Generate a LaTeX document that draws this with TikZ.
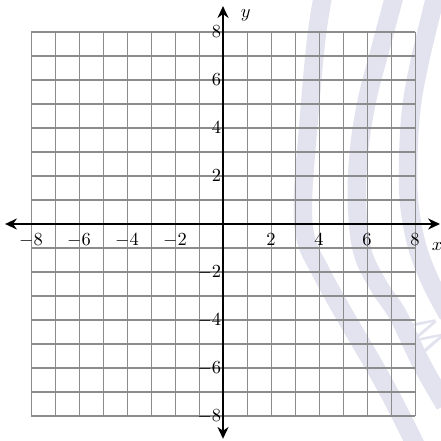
\documentclass[tikz,border=0pt]{standalone}
\usepackage{tikz}
\usetikzlibrary{positioning, arrows.meta, calc}

\definecolor{gridgray}{RGB}{140,140,140}
\definecolor{wmarkcol}{RGB}{226,227,239}

\begin{document}
\begin{tikzpicture}[
    x=0.5cm, y=0.5cm,                       % 1目盛り = 0.5cm
    >={Stealth[length=7pt, width=6.5pt]},   % 軸の矢じり
    font=\fontsize{11}{13}\selectfont,
    gridline/.style={draw=gridgray, line width=0.6pt},
    axisline/.style={black, line width=1.2pt, <->},
    wmark/.style={draw=wmarkcol, line width=11pt},
    ticklabel/.style={inner sep=0pt}
]

    % 画像全体の大きさ（余白を含む）
    \useasboundingbox (-9.292, -9.0) rectangle (9.083, 9.333);

    % --- 1. 背景の透かし模様（3本の弧） ---
    \draw [wmark, smooth, tension=0.6] plot coordinates {
        (4.21, 9.75) (3.88, 7.67) (3.54, 3.92) (3.33, 1.0) (3.46, -0.67)
        (4.04, -1.92) (4.71, -3.17) (5.5, -4.54) (6.33, -5.96) (7.08, -7.33)
        (8.13, -9.42)
    };
    \draw [wmark, smooth, tension=0.6] plot coordinates {
        (7.21, 9.75) (6.54, 7.25) (6.0, 5.17) (5.67, 3.08) (5.58, 1.0)
        (5.79, -1.08) (6.46, -2.54) (7.29, -3.79) (8.25, -5.79) (9.25, -7.54)
    };
    \draw [wmark, smooth, tension=0.6] plot coordinates {
        (8.92, 9.75) (8.21, 6.83) (7.83, 4.67) (7.71, 2.25) (7.79, 0.58)
        (8.13, -1.08) (8.71, -2.54) (9.38, -3.79)
    };
    \node [text=wmarkcol, rotate=116, font=\fontsize{24}{26}\sffamily] (wmtext)
        at (8.5, -4.6) {W};

    % --- 2. 方眼の描画 ---
    \foreach \i in {-8,...,8} {
        \draw [gridline] (\i, -8) -- (\i, 8);
        \draw [gridline] (-8, \i) -- (8, \i);
    }

    % --- 3. 座標軸の描画 ---
    \coordinate (xmin) at (-9.08, 0);
    \coordinate (xmax) at (9.04, 0);
    \coordinate (ymin) at (0, -8.95);
    \coordinate (ymax) at (0, 9.08);
    \draw [axisline] (xmin) -- (xmax);
    \draw [axisline] (ymin) -- (ymax);

    \node [below=0.27cm of xmax, xshift=-0.06cm] (xlabel) {$x$};
    \node [right=0.25cm of ymax, yshift=-0.19cm] (ylabel) {$y$};

    % --- 4. 目盛りのラベル ---
    \foreach \i in {-8,-6,-4,-2,2,4,6,8} {
        \coordinate (xt\i) at (\i, 0);
        \coordinate (yt\i) at (0, \i);
        \node [ticklabel, below=0.2cm of xt\i] (xnum\i) {$\i$};
        \node [ticklabel, left=0.03cm of yt\i] (ynum\i) {$\i$};
    }

\end{tikzpicture}
\end{document}
